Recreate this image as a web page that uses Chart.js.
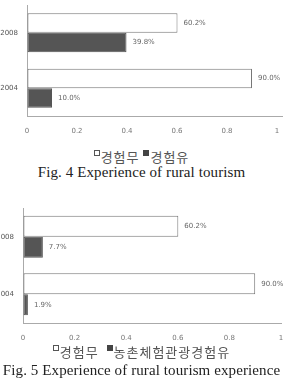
<!DOCTYPE html>
<html><head><meta charset="utf-8">
<script src="https://cdn.jsdelivr.net/npm/chart.js@4"></script>
<style>
html,body{margin:0;padding:0;background:#fff;width:283px;height:383px;overflow:hidden;position:relative}
.c{position:absolute;left:0}
.leg{position:absolute;left:0;width:283px;text-align:center;font-family:"Noto Sans CJK KR",sans-serif;font-size:13px;letter-spacing:1px;color:#555;line-height:14px;white-space:nowrap}
.cap{position:absolute;left:0;width:283px;text-align:center;font-family:"Liberation Serif","DejaVu Serif",serif;font-size:15px;letter-spacing:0.1px;color:#222;line-height:15px;white-space:nowrap}
.sq{display:inline-block;width:6px;height:6px;vertical-align:6px;margin-right:1px;box-sizing:border-box}
.w{border:1px solid #555;background:#fff}
.d{background:#444}
</style></head><body>
<div class="c" style="top:0"><canvas id="c1" width="283" height="140"></canvas></div>
<div class="leg" style="top:150px"><span class="sq w"></span>경험무 <span class="sq d"></span>경험유</div>
<div class="cap" style="top:165px">Fig. 4 Experience of rural tourism</div>
<div class="c" style="top:200px"><canvas id="c2" width="283" height="146"></canvas></div>
<div class="leg" style="top:345px"><span class="sq w"></span>경험무 &nbsp;<span class="sq d"></span>농촌체험관광경험유</div>
<div class="cap" style="top:363px">Fig. 5 Experience of rural tourism experience</div>
<script>
const years = ['2008', '2004'];
const noExp1 = [0.602, 0.900];
const yesExp1 = [0.398, 0.100];
const noExp2 = [0.602, 0.900];
const yesExp2 = [0.077, 0.019];
const xTicks = [0, 0.2, 0.4, 0.6, 0.8, 1];
const seriesNames1 = ['경험무', '경험유'];
const seriesNames2 = ['경험무', '농촌체험관광경험유'];

const labelPlugin = {
  id: 'vlabels',
  afterDatasetsDraw(chart) {
    const ctx = chart.ctx;
    ctx.save();
    ctx.font = '7px "DejaVu Sans", sans-serif';
    ctx.fillStyle = '#666';
    ctx.textBaseline = 'middle';
    ctx.textAlign = 'left';
    chart.data.datasets.forEach((ds, i) => {
      chart.getDatasetMeta(i).data.forEach((bar, j) => {
        ctx.fillText((ds.data[j] * 100).toFixed(1) + '%', bar.x + 6, bar.y);
      });
    });
    ctx.restore();
  }
};

function make(id, a, b, names, cat, pad, xh, yw, xmax) {
  new Chart(document.getElementById(id), {
    type: 'bar',
    data: {
      labels: years,
      datasets: [
        {label: names[0], data: a, backgroundColor: '#fff', borderColor: '#777', borderWidth: 1, borderSkipped: false},
        {label: names[1], data: b, backgroundColor: '#555', borderColor: '#555', borderWidth: 1, borderSkipped: false}
      ]
    },
    options: {
      indexAxis: 'y',
      responsive: false,
      animation: false,
      devicePixelRatio: 1,
      layout: {padding: pad},
      plugins: {legend: {display: false}, tooltip: {enabled: false}},
      datasets: {bar: {categoryPercentage: cat, barPercentage: 1}},
      scales: {
        x: {
          min: 0, max: xmax,
          afterBuildTicks: s => { s.ticks = xTicks.map(v => ({value: v})); },
          afterFit: s => { s.height = xh; s.paddingLeft = 0; s.paddingRight = 0; },
          grid: {drawOnChartArea: false, drawTicks: false},
          border: {color: '#aaa'},
          ticks: {padding: 11, color: '#777', font: {size: 7, family: '"DejaVu Sans", sans-serif'}, callback: v => String(v)}
        },
        y: {
          afterFit: s => { s.width = yw; s.paddingTop = 0; s.paddingBottom = 0; },
          grid: {drawOnChartArea: false, drawTicks: false},
          border: {color: '#aaa'},
          ticks: {padding: 9, color: '#555', font: {size: 7, family: '"DejaVu Sans", sans-serif'}}
        }
      }
    },
    plugins: [labelPlugin]
  });
}
make('c1', noExp1, yesExp1, seriesNames1, 0.70, {top: 5, right: 1, left: 0, bottom: 0}, 24, 27, 1.02);
make('c2', noExp2, yesExp2, seriesNames2, 0.73, {top: 8, right: 2, left: 0, bottom: 0}, 23, 23, 1.0);
</script>
</body></html>
